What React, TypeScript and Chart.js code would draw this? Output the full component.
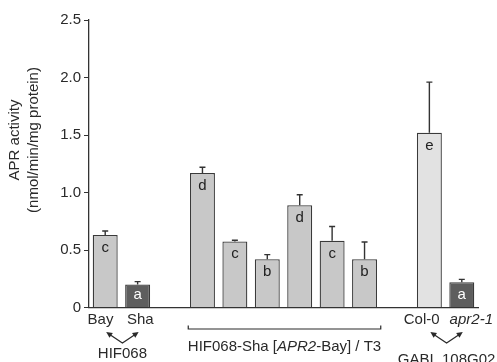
import React, { useEffect, useRef } from "react";
import { Chart, registerables } from "chart.js";

Chart.register(...registerables);

// ---- data ----
const categories = ["Bay", "Sha", "gap1", "T3-1", "T3-2", "T3-3", "T3-4", "T3-5", "T3-6", "gap2", "Col-0", "apr2-1"];
const xTickLabels = ["Bay", "Sha", "", "", "", "", "", "", "", "", "Col-0", "apr2-1"];
const italicTicks = [false, false, false, false, false, false, false, false, false, false, false, true];
const activity: (number | null)[] = [0.63, 0.2, null, 1.17, 0.575, 0.42, 0.89, 0.58, 0.42, null, 1.52, 0.22];
const errorSE: (number | null)[] = [0.035, 0.025, null, 0.05, 0.01, 0.04, 0.09, 0.125, 0.15, null, 0.44, 0.025];
const letters = ["c", "a", "", "d", "c", "b", "d", "c", "b", "", "e", "a"];
const barColors = ["#c8c8c8", "#5e5e5e", "#c8c8c8", "#c8c8c8", "#c8c8c8", "#c8c8c8", "#c8c8c8", "#c8c8c8", "#c8c8c8", "#c8c8c8", "#e2e2e2", "#5e5e5e"];
const letterColors = ["#222", "#fff", "#222", "#222", "#222", "#222", "#222", "#222", "#222", "#222", "#222", "#fff"];
const yTicks = [0, 0.5, 1.0, 1.5, 2.0, 2.5];
const yTitle = ["APR activity", "(nmol/min/mg protein)"];
const groupHIF = "HIF068";
const groupGABI = "GABI_108G02";
const bracketParts: [string, boolean][] = [["HIF068-Sha [", false], ["APR2", true], ["-Bay] / T3", false]];

const FONT = "'Liberation Sans', Arial, Helvetica, sans-serif";
const INK = "#2a2a2a";
const labelShift = [-4.7, 2.7, 0, 0, 0, 0, 0, 0, 0, 0, -7.7, 9.5];

function arrowHead(ctx: CanvasRenderingContext2D, fx: number, fy: number, tx: number, ty: number) {
  const ang = Math.atan2(ty - fy, tx - fx);
  const len = 6;
  const w = 3;
  ctx.beginPath();
  ctx.moveTo(tx, ty);
  ctx.lineTo(tx - len * Math.cos(ang) + w * Math.sin(ang), ty - len * Math.sin(ang) - w * Math.cos(ang));
  ctx.lineTo(tx - len * Math.cos(ang) - w * Math.sin(ang), ty - len * Math.sin(ang) + w * Math.cos(ang));
  ctx.closePath();
  ctx.fill();
}

const annotate = {
  id: "annotate",
  afterDatasetsDraw(chart: any) {
    const ctx: CanvasRenderingContext2D = chart.ctx;
    const xs = chart.scales.x;
    const ys = chart.scales.y;
    const bottom = chart.chartArea.bottom;
    ctx.save();
    // error bars
    ctx.strokeStyle = "#333";
    ctx.lineWidth = 1.4;
    activity.forEach((v, i) => {
      const e = errorSE[i];
      if (v == null || e == null) return;
      const x = xs.getPixelForValue(i);
      const y0 = ys.getPixelForValue(v);
      const y1 = ys.getPixelForValue(v + e);
      ctx.beginPath();
      ctx.moveTo(x, y0);
      ctx.lineTo(x, y1);
      ctx.moveTo(x - 3, y1);
      ctx.lineTo(x + 3, y1);
      ctx.stroke();
    });
    // letters
    ctx.font = `15px ${FONT}`;
    ctx.textAlign = "center";
    ctx.textBaseline = "alphabetic";
    activity.forEach((v, i) => {
      if (v == null || !letters[i]) return;
      const x = xs.getPixelForValue(i);
      const top = ys.getPixelForValue(v);
      const base = Math.min(top + 17, bottom - 9);
      ctx.fillStyle = letterColors[i];
      ctx.fillText(letters[i], x, base);
    });
    // x labels
    ctx.fillStyle = INK;
    ctx.textBaseline = "middle";
    xTickLabels.forEach((t, i) => {
      if (!t) return;
      ctx.font = `${italicTicks[i] ? "italic " : ""}15px ${FONT}`;
      ctx.fillText(t, xs.getPixelForValue(i) + labelShift[i], bottom + 12);
    });
    ctx.font = `15px ${FONT}`;
    // group arrows
    ctx.strokeStyle = INK;
    ctx.fillStyle = INK;
    ctx.lineWidth = 1.2;
    const drawGroup = (a: number, b: number, label: string, ty: number) => {
      const xa = xs.getPixelForValue(a) + 1;
      const xb = xs.getPixelForValue(b) + 1;
      const mx = (xa + xb) / 2;
      const apexY = bottom + 35.5;
      const tipY = bottom + 24.5;
      ctx.beginPath();
      ctx.moveTo(xa + 2, tipY + 1.5);
      ctx.lineTo(mx, apexY);
      ctx.lineTo(xb - 2, tipY + 1.5);
      ctx.stroke();
      arrowHead(ctx, mx, apexY, xa, tipY);
      arrowHead(ctx, mx, apexY, xb, tipY);
      ctx.textAlign = "center";
      ctx.fillText(label, mx, ty);
    };
    drawGroup(0, 1, groupHIF, bottom + 46.5);
    drawGroup(10, 11, groupGABI, bottom + 52.5);
    // bracket
    const half = (xs.getPixelForValue(4) - xs.getPixelForValue(3)) / 2;
    const bl = xs.getPixelForValue(3) - half + 2;
    const br = xs.getPixelForValue(8) + half;
    const by = bottom + 21.5;
    ctx.beginPath();
    ctx.moveTo(bl, by - 3.5);
    ctx.lineTo(bl, by);
    ctx.lineTo(br, by);
    ctx.lineTo(br, by - 3.5);
    ctx.stroke();
    // bracket label with mixed italics
    let total = 0;
    bracketParts.forEach(([t, it]) => {
      ctx.font = `${it ? "italic " : ""}15px ${FONT}`;
      total += ctx.measureText(t).width;
    });
    let cx = (bl + br) / 2 - total / 2;
    ctx.textAlign = "left";
    bracketParts.forEach(([t, it]) => {
      ctx.font = `${it ? "italic " : ""}15px ${FONT}`;
      ctx.fillText(t, cx, bottom + 39);
      cx += ctx.measureText(t).width;
    });
    // y title
    ctx.font = `15px ${FONT}`;
    ctx.textAlign = "center";
    ctx.translate(0, 140);
    ctx.rotate(-Math.PI / 2);
    ctx.fillText(yTitle[0], 0, 15);
    ctx.fillText(yTitle[1], 0, 34);
    ctx.restore();
  },
};

export default function App() {
  const ref = useRef<HTMLCanvasElement>(null);
  useEffect(() => {
    document.body.style.margin = "0";
    const chart = new Chart(ref.current!, {
      type: "bar",
      data: {
        labels: categories,
        datasets: [
          {
            data: activity as any,
            backgroundColor: barColors,
            borderColor: "#3a3a3a",
            borderWidth: 1.3,
            borderSkipped: "bottom",
            categoryPercentage: 1,
            barPercentage: 0.77,
          },
        ],
      },
      options: {
        animation: false,
        responsive: true,
        maintainAspectRatio: false,
        layout: { padding: { top: 20, right: 19, bottom: 0, left: 0 } },
        plugins: { legend: { display: false }, tooltip: { enabled: false } },
        scales: {
          x: {
            grid: { display: false },
            ticks: { display: false },
            border: { color: "#333", width: 1.3 },
            afterFit: (s: any) => {
              s.height = 54.5;
            },
          },
          y: {
            min: 0,
            max: 2.5,
            afterBuildTicks: (s: any) => {
              s.ticks = yTicks.map((v) => ({ value: v }));
            },
            ticks: {
              font: { family: FONT, size: 15 },
              color: INK,
              padding: 3,
              callback: (v: any) => (Number(v) === 0 ? "0" : Number(v).toFixed(1)),
            },
            grid: { drawOnChartArea: false, tickLength: 5, color: "#333", tickColor: "#333" },
            border: { color: "#333", width: 1.3 },
            afterFit: (s: any) => {
              s.width = 89;
            },
          },
        },
      },
      plugins: [annotate],
    });
    return () => chart.destroy();
  }, []);
  return (
    <div style={{ position: "fixed", left: 0, top: 0, width: 497, height: 362 }}>
      <canvas ref={ref} />
    </div>
  );
}
